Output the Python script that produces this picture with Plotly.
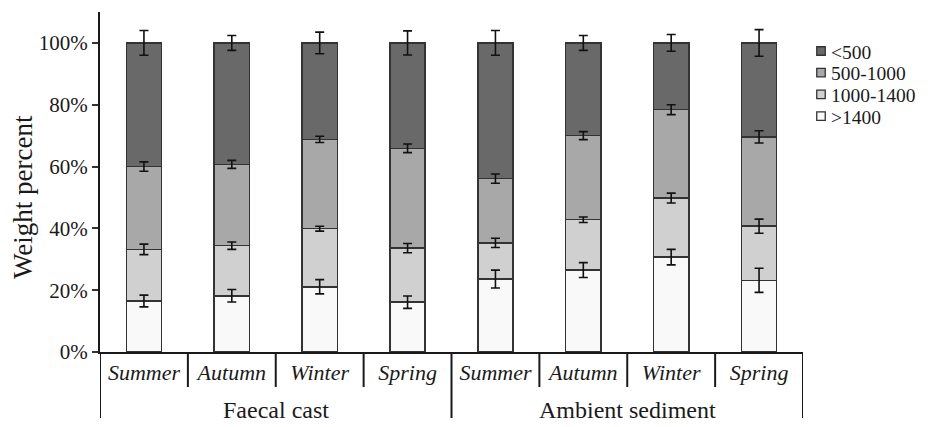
import plotly.graph_objects as go

group_names = ["Faecal cast", "Ambient sediment"]
season_names = ["Summer", "Autumn", "Winter", "Spring"]

size_classes = [">1400", "1000-1400", "500-1000", "&lt;500"]

v_gt1400 = [16.5, 18.2, 21.1, 16.1, 23.6, 26.5, 30.7, 23.2]
v_1000_1400 = [16.7, 16.2, 18.8, 17.5, 11.7, 16.3, 19.1, 17.5]
v_500_1000 = [26.8, 26.3, 28.9, 32.3, 20.8, 27.2, 28.6, 28.9]
v_lt500 = [40.0, 39.3, 31.2, 34.1, 43.9, 30.0, 21.6, 30.4]

e_gt1400 = [1.9, 2.0, 2.3, 2.0, 2.9, 2.4, 2.5, 3.9]
e_1000_1400 = [1.7, 1.2, 0.8, 1.5, 1.5, 0.9, 1.6, 2.3]
e_500_1000 = [1.5, 1.3, 1.0, 1.4, 1.5, 1.3, 1.6, 2.0]
e_lt500 = [4.0, 2.4, 3.5, 3.9, 4.0, 2.4, 2.7, 4.3]

colors = ["#f9f9f9", "#cfd0cf", "#a8a8a8", "#696969"]
values = [v_gt1400, v_1000_1400, v_500_1000, v_lt500]
errors = [e_gt1400, e_1000_1400, e_500_1000, e_lt500]

FONT = "Liberation Serif"
TXT = "#1a1a1a"
LINE = "#1a1a1a"
EDGE = "#333333"

n_seasons = len(season_names)
x_idx = list(range(len(group_names) * n_seasons))
season_text = ["<i>%s</i>" % s for _ in group_names for s in season_names]

fig = go.Figure()
for name, vals, col in zip(size_classes, values, colors):
    fig.add_trace(go.Bar(
        x=x_idx,
        y=[v / 100 for v in vals],
        name=name,
        width=0.4,
        marker=dict(color=col, line=dict(color=EDGE, width=1.5)),
        showlegend=False,
    ))

# error bars drawn on top of the stacked segments, at cumulative heights
cum = [0.0] * len(x_idx)
for vals, errs in zip(values, errors):
    cum = [c + v for c, v in zip(cum, vals)]
    fig.add_trace(go.Scatter(
        x=x_idx,
        y=[c / 100 for c in cum],
        mode="markers",
        marker=dict(size=1, opacity=0),
        showlegend=False,
        hoverinfo="skip",
        error_y=dict(type="data", array=[e / 100 for e in errs], visible=True,
                     color="#111111", thickness=1.6, width=4.5),
    ))

PLOT_W = 703.0
PLOT_H = 340.0
L, T = 100, 12
AX_Y = T + PLOT_H  # pixel row of the x axis


def px_x(px):
    return (px - L) / PLOT_W


def px_y(py):
    return (AX_Y - py) / PLOT_H


# category separators below the x axis (short) and group separators (long)
short_len = 35 / PLOT_H
long_len = 66 / PLOT_H
for b in range(len(x_idx) + 1):
    xb = b - 0.5
    is_group_edge = (b % n_seasons == 0)
    fig.add_shape(type="line", xref="x", yref="paper",
                  x0=xb, x1=xb, y0=0, y1=-(long_len if is_group_edge else short_len),
                  line=dict(color=LINE, width=2))

# group labels
for gi, g in enumerate(group_names):
    fig.add_annotation(text=g, xref="x", yref="paper",
                       x=gi * n_seasons + (n_seasons - 1) / 2, y=px_y(410),
                       xanchor="center", yanchor="middle", showarrow=False,
                       font=dict(family=FONT, size=24, color=TXT))

# y-axis title
fig.add_annotation(text="Weight percent", xref="paper", yref="paper",
                   x=px_x(23), y=px_y(197), textangle=-90,
                   xanchor="center", yanchor="middle", showarrow=False,
                   font=dict(family=FONT, size=27, color=TXT))

# legend (top entry = top of stack)
row0, row_gap, sq = 51, 21.7, 8.5
for i, (name, col) in enumerate(zip(size_classes[::-1], colors[::-1])):
    cy = row0 + i * row_gap
    fig.add_shape(type="rect", xref="paper", yref="paper",
                  x0=px_x(821 - sq / 2), x1=px_x(821 + sq / 2),
                  y0=px_y(cy + sq / 2), y1=px_y(cy - sq / 2),
                  fillcolor=col, line=dict(color=EDGE, width=1.3))
    fig.add_annotation(text=name, xref="paper", yref="paper",
                       x=px_x(829), y=px_y(cy + 1), xanchor="left", yanchor="middle",
                       showarrow=False, font=dict(family=FONT, size=19.5, color=TXT))

fig.update_layout(
    barmode="stack",
    width=930, height=427,
    margin=dict(l=L, r=127, t=T, b=75, autoexpand=False),
    paper_bgcolor="white", plot_bgcolor="white",
    font=dict(family=FONT, color=TXT),
    showlegend=False,
    yaxis=dict(range=[0, 1.1], tickvals=[0, 0.2, 0.4, 0.6, 0.8, 1.0],
               tickformat=".0%", showgrid=False, zeroline=False,
               showline=True, linecolor=LINE, linewidth=2,
               ticks="outside", ticklen=6, tickwidth=2, tickcolor="#333333",
               tickfont=dict(family=FONT, size=21, color=TXT)),
    xaxis=dict(range=[-0.5, len(x_idx) - 0.5], tickvals=x_idx, ticktext=season_text,
               showgrid=False, zeroline=False,
               showline=True, linecolor=LINE, linewidth=2, ticks="",
               ticklabelstandoff=0,
               tickfont=dict(family=FONT, size=22, color=TXT)),
)

fig.write_html("out.html")
